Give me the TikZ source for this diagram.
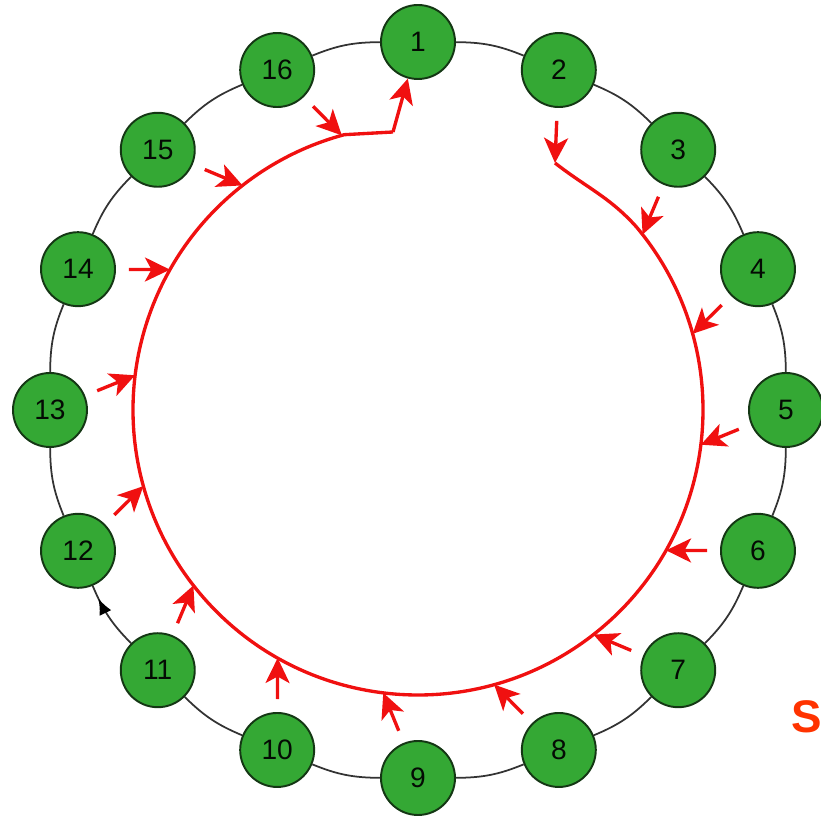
\documentclass[tikz,border=0pt]{standalone}
\usepackage{fontspec}
\setmainfont{Liberation Sans}
\usetikzlibrary{arrows.meta,decorations.markings}
\definecolor{peergreen}{RGB}{52,168,52}
\definecolor{peerline}{RGB}{20,55,20}
\definecolor{flowred}{RGB}{240,16,16}
\definecolor{sorange}{RGB}{255,51,0}

\begin{document}
\begin{tikzpicture}[>=Latex,
 peer/.style={circle,draw=peerline,line width=1.1pt,fill=peergreen,minimum size=14.8mm,inner sep=0pt,
   font=\fontsize{16}{19}\selectfont,text=black!80!peerline},
 ring/.style={draw=black!80,line width=1pt},
 flow/.style={draw=flowred,line width=1.9pt},
 tip/.style={-{Stealth[length=5mm,width=4.8mm,inset=1.3mm]}},
 push/.style={flow,tip,shorten <=2.6mm}]
\useasboundingbox (-8.36,-8.18) rectangle (8.06,8.20);
% peers on the outer ring, 1 on top, going clockwise
\foreach \i in {1,...,16}
  \node[peer] (n\i) at ({90-22.5*(\i-1)}:7.36) {\i};
\foreach \i in {1,...,10,12,13,14,15,16}{
  \pgfmathtruncatemacro{\j}{mod(\i,16)+1}
  \draw[ring] (n\i) to[bend left=11] (n\j);
}
\draw[ring,postaction={decorate},
  decoration={markings,mark=at position 0.8 with {\arrow[black]{Latex[length=3.2mm,width=2.6mm]}}}]
  (n11) to[bend left=11] (n12);
% red path from 2 round to 1
\coordinate (start) at (2.74,4.94);
\coordinate (join) at (-0.50,5.56);
\draw[flow] (start) to[out=-38,in=132] (40:5.7) arc[start angle=40,end angle=-255,radius=5.7] -- (join);
\draw[push] (n2) -- (start);
\draw[flow,tip] (join) -- (n1);
\foreach \i in {3,...,16}{
  \coordinate (t\i) at ({83-22.5*(\i-1)}:5.7);
  \draw[push] (n\i) -- (t\i);
}
\node[text=sorange,font=\fontsize{26}{30}\selectfont\bfseries,anchor=west,inner sep=0pt] (s) at (7.46,-6.14) {S};
\end{tikzpicture}
\end{document}
